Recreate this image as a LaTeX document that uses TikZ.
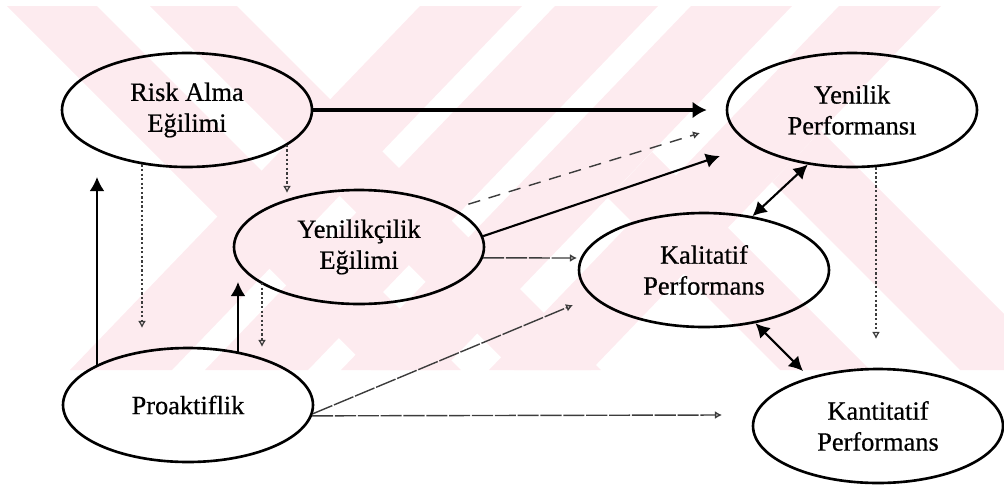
\documentclass[tikz,border=0pt]{standalone}
\usepackage{fontspec}
\setmainfont{Liberation Serif}
\newfontfamily\nodefont{Liberation Serif}[FakeBold=0.6]
\usetikzlibrary{arrows.meta,calc,shapes.geometric}
\definecolor{wm}{RGB}{253,235,239}
\definecolor{lg}{RGB}{60,60,60}
\begin{document}
\begin{tikzpicture}[x=0.02cm,y=-0.02cm,
  ell/.style={draw, ellipse, line width=1.5pt, minimum width=5cm, minimum height=2.28cm,
    inner sep=0pt, align=center, font=\nodefont\fontsize{15}{17.6}\selectfont},
  solidarrow/.style={line width=1.2pt, -{Latex[length=8pt,width=8.5pt]}},
  bigarrow/.style={line width=1.8pt, -{Latex[length=8pt,width=9.5pt]}},
  dblarrow/.style={line width=1.2pt, {Latex[length=8pt,width=8.5pt]}-{Latex[length=8pt,width=8.5pt]}},
  dotarrow/.style={lg, line width=0.7pt, dash pattern=on 1.3pt off 1.3pt, -{Latex[open,length=4pt,width=4.5pt]}},
  dasharrow/.style={lg, line width=0.8pt, dash pattern=on 7pt off 5pt, -{Latex[open,length=4pt,width=4.5pt]}},
  grayarrow/.style={lg, line width=0.8pt, dash pattern=on 12pt off 1pt, -{Latex[open,length=4pt,width=4.5pt]}}
]
\useasboundingbox (0,0) rectangle (1004,484);
% watermark
\begin{scope}
\clip (0,6) rectangle (1004,370);
\fill[wm] (7,6) -- (97,6) -- (461,370) -- (371,370) -- cycle;
\fill[wm] (150,6) -- (237,6) -- (601,370) -- (514,370) -- cycle;
\fill[wm] (420,6) -- (522,6) -- (172,370) -- (70,370) -- cycle;
\fill[wm] (555,6) -- (658,6) -- (308,370) -- (205,370) -- cycle;
\fill[wm] (691,6) -- (792,6) -- (442,370) -- (341,370) -- cycle;
\fill[wm] (839,6) -- (941,6) -- (591,370) -- (489,370) -- cycle;
\fill[wm] (772,182) -- (821,131) -- (1060,370) -- (960,370) -- cycle;
\fill[wm] (608,198) -- (652,152) -- (870,370) -- (780,370) -- cycle;
\end{scope}
% nodes
\node[ell] (risk) at (187,110) {Risk Alma\\Eğilimi};
\node[ell] (yen) at (359,247) {Yenilikçilik\\Eğilimi};
\node[ell] (pro) at (188,405) {Proaktiflik};
\node[ell] (yp) at (852,110) {Yenilik\\Performansı};
\node[ell] (kal) at (704,270) {Kalitatif\\Performans};
\node[ell] (kan) at (878,426) {Kantitatif\\Performans};
% free ends
\coordinate (tb) at (287,193);
\coordinate (tc) at (142,328);
\coordinate (td) at (97,177);
\coordinate (te) at (238,282);
\coordinate (tf) at (262,347);
\coordinate (tg) at (700,133);
\coordinate (th) at (720,156);
\coordinate (ti) at (577,258);
\coordinate (tj) at (573,305);
\coordinate (tk) at (722,415);
\coordinate (tl) at (876,339);
\coordinate (tn) at (803,371);
% connectors
\draw[bigarrow, shorten >=0.38cm] (risk.east) -- (yp.west);
\draw[dotarrow] (tb |- risk.-19) -- (tb);
\draw[dotarrow] (tc |- risk.230) -- (tc);
\draw[solidarrow] (td |- pro.157) -- (td);
\draw[solidarrow] (te |- pro.46) -- (te);
\draw[dotarrow] (tf |- yen.200) -- (tf);
\draw[dasharrow, shorten <=0.3cm] (yen.22) -- (tg);
\draw[solidarrow] (yen.5) -- (th);
\draw[grayarrow] (yen.-5) -- (ti);
\draw[grayarrow] (pro.-4) -- (tj);
\draw[grayarrow] (pro.-5) -- (tk);
\draw[dotarrow] (tl |- yp.-67) -- (tl);
\draw[dblarrow] (kal.48) -- (yp.231);
\draw[dblarrow] (kal.-46) -- (tn);
\end{tikzpicture}
\end{document}
